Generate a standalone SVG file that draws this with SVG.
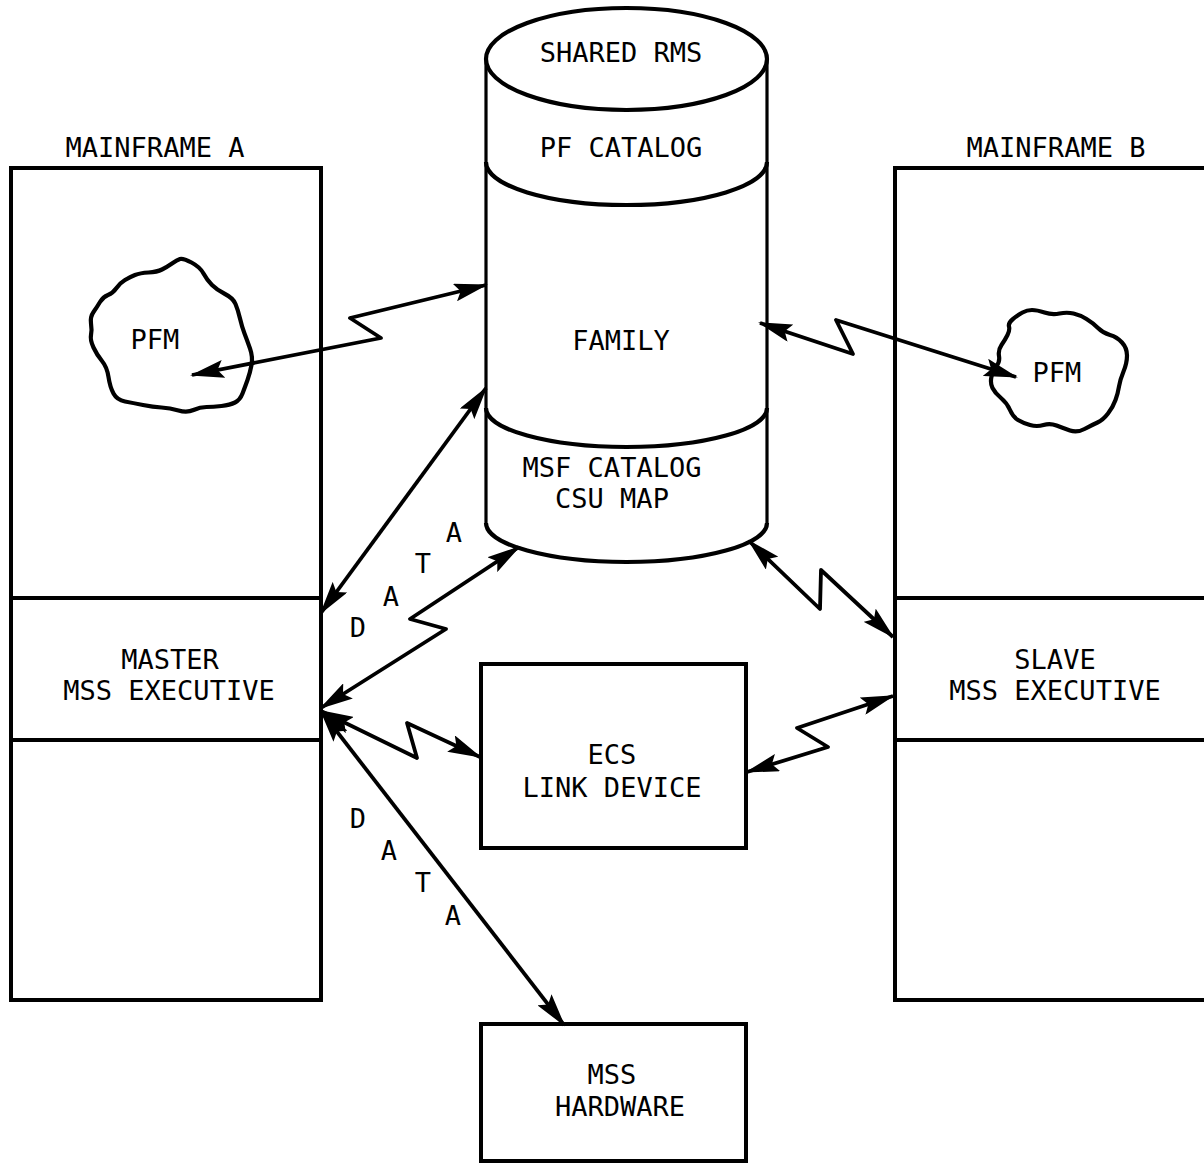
<svg xmlns="http://www.w3.org/2000/svg" width="1204" height="1163" viewBox="0 0 1204 1163">
<style>
.box{fill:none;stroke:#000;stroke-width:4}
.ln{fill:none;stroke:#000;stroke-width:4}
.side{fill:none;stroke:#000;stroke-width:3.2}
.arc{fill:none;stroke:#000;stroke-width:4.2}
.cloud{fill:#fff;stroke:#000;stroke-width:4.2;stroke-linejoin:round}
.con{fill:none;stroke:#000;stroke-width:3.8;stroke-linejoin:round;marker-start:url(#ah);marker-end:url(#ah)}
.t{font-family:"DejaVu Sans Mono","Liberation Mono",monospace;font-size:27px;fill:#000;text-anchor:middle}
</style>
<defs>
<marker id="ah" viewBox="0 0 34 18" refX="32" refY="9" markerWidth="34" markerHeight="18" markerUnits="userSpaceOnUse" orient="auto-start-reverse">
<path d="M0,0 L34,9 L0,18 L6,9 z" fill="#000"/>
</marker>
</defs>
<rect width="1204" height="1163" fill="#fff"/>

<g id="mainframe-a">
<rect class="box" x="11" y="168" width="310" height="832"/>
<line class="ln" x1="11" y1="598" x2="321" y2="598"/>
<line class="ln" x1="11" y1="740" x2="321" y2="740"/>
<text class="t" x="155" y="157">MAINFRAME A</text>
<text class="t" x="170" y="669">MASTER</text>
<text class="t" x="169" y="700">MSS EXECUTIVE</text>
</g>

<g id="mainframe-b">
<rect class="box" x="895" y="168" width="330" height="832"/>
<line class="ln" x1="895" y1="598" x2="1210" y2="598"/>
<line class="ln" x1="895" y1="740" x2="1210" y2="740"/>
<text class="t" x="1056" y="157">MAINFRAME B</text>
<text class="t" x="1055" y="669">SLAVE</text>
<text class="t" x="1055" y="700">MSS EXECUTIVE</text>
</g>

<g id="shared-rms">
<path d="M486,59 L486,523 A140.5,39 0 0 0 767,523 L767,59 Z" fill="#fff" stroke="none"/>
<line class="side" x1="486" y1="59" x2="486" y2="523"/>
<line class="side" x1="767" y1="59" x2="767" y2="523"/>
<ellipse class="arc" cx="626.5" cy="59" rx="140.5" ry="51"/>
<path class="arc" d="M486,162 A140.5,43 0 0 0 767,162"/>
<path class="arc" d="M486,408 A140.5,39 0 0 0 767,408"/>
<path class="arc" d="M486,523 A140.5,39 0 0 0 767,523"/>
<text class="t" x="621" y="62">SHARED RMS</text>
<text class="t" x="621" y="157">PF CATALOG</text>
<text class="t" x="621" y="350">FAMILY</text>
<text class="t" x="612" y="477">MSF CATALOG</text>
<text class="t" x="612" y="508">CSU MAP</text>
</g>

<g id="pfm-a">
<path class="cloud" d="M191.5,262.5 Q200,267 203.5,273.5 Q207,280 212,285 Q217,290 225,294 Q233,298 235.5,304 Q238,310 240,318.5 Q242,327 244.5,333.5 Q247,340 250,348.5 Q253,357 251.5,365 Q250,373 247.5,380 Q245,387 242.5,393.5 Q240,400 235,402.5 Q230,405 221.5,406 Q213,407 206.5,407 Q200,407 193.5,410 Q187,413 178.5,410.5 Q170,408 161.5,407.5 Q153,407 143,405 Q133,403 125,401.5 Q117,400 113.5,393.5 Q110,387 108.5,377 Q107,367 102,361 Q97,355 93.5,347.5 Q90,340 91,335 Q92,330 91,323.5 Q90,317 93.5,312 Q97,307 100,302 Q103,297 108,295 Q113,293 116.5,288 Q120,283 125,280 Q130,277 135,275 Q140,273 148.5,272.5 Q157,272 162,269.5 Q167,267 172,263.5 Q177,260 180,259 Q183,258 191.5,262.5 Z"/>
<text class="t" x="155" y="349">PFM</text>
</g>

<g id="pfm-b">
<path class="cloud" d="M1044.5,312.5 Q1052,315 1059.5,313.5 Q1067,312 1073.5,313.5 Q1080,315 1086.5,319 Q1093,323 1098,328 Q1103,333 1110,335 Q1117,337 1122,342.5 Q1127,348 1127,355.5 Q1127,363 1123.5,371.5 Q1120,380 1119,386.5 Q1118,393 1115.5,400 Q1113,407 1108,413.5 Q1103,420 1097.5,422.5 Q1092,425 1084.5,429 Q1077,433 1070,430.5 Q1063,428 1056.5,425.5 Q1050,423 1043.5,425 Q1037,427 1030,425 Q1023,423 1018,420 Q1013,417 1010,410 Q1007,403 1001,398 Q995,393 992.5,388 Q990,383 991.5,376.5 Q993,370 996.5,366 Q1000,362 999,356 Q998,350 1001.5,345 Q1005,340 1007.5,335 Q1010,330 1009,326.5 Q1008,323 1013,319 Q1018,315 1022.5,312.5 Q1027,310 1032,310 Q1037,310 1044.5,312.5 Z"/>
<text class="t" x="1057" y="382">PFM</text>
</g>

<g id="ecs-link-device">
<rect class="box" x="481" y="664" width="265" height="184"/>
<text class="t" x="612" y="764">ECS</text>
<text class="t" x="612" y="797">LINK DEVICE</text>
</g>

<g id="mss-hardware">
<rect class="box" x="481" y="1024" width="265" height="137"/>
<text class="t" x="612" y="1084">MSS</text>
<text class="t" x="620" y="1116">HARDWARE</text>
</g>

<g id="connectors">
<path class="con" d="M192,375 L381,338 L350,318 L486,285"/>
<path class="con" d="M760,323 L853,354 L836,320 L1016,377"/>
<path class="con" d="M486,388 L321,613"/>
<path class="con" d="M519,547 L410,619 L446,629 L321,708"/>
<path class="con" d="M321,711 L417,758 L407,723 L480,757"/>
<path class="con" d="M321,711 L564,1025"/>
<path class="con" d="M749,541 L820,609 L821,570 L893,637"/>
<path class="con" d="M893,696 L797,728 L828,747 L747,772"/>
<g id="data-labels">
<text class="t" x="358" y="637">D</text>
<text class="t" x="391" y="606">A</text>
<text class="t" x="423" y="573">T</text>
<text class="t" x="454" y="542">A</text>
<text class="t" x="358" y="828">D</text>
<text class="t" x="389" y="860">A</text>
<text class="t" x="423" y="892">T</text>
<text class="t" x="453" y="925">A</text>
</g>
</g>
</svg>
